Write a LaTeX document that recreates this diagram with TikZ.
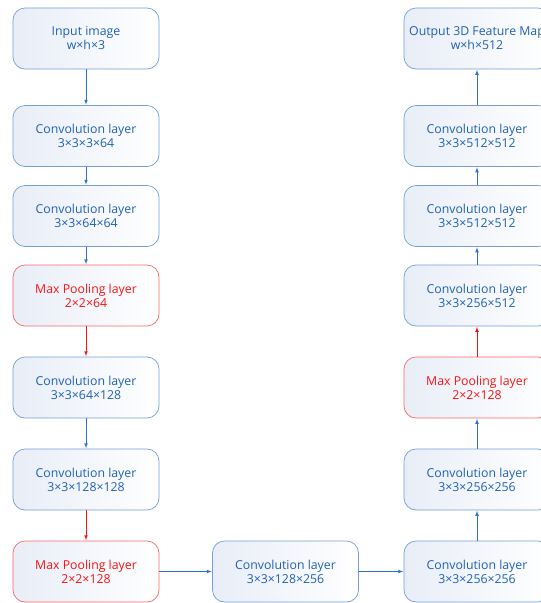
\documentclass[tikz,border=0pt]{standalone}
\usepackage{fontspec}
\setmainfont{Open Sans}
\usepackage{tikz}
\usetikzlibrary{shapes,arrows}

\definecolor{txtblue}{RGB}{31,98,184}
\definecolor{lineblue}{RGB}{118,158,216}
\definecolor{arrblue}{RGB}{45,115,205}
\definecolor{txtred}{RGB}{250,20,20}
\definecolor{linered}{RGB}{250,105,105}
\definecolor{fillgray}{RGB}{232,237,247}

\tikzset{
    layer/.style={rectangle,rounded corners=12pt,draw=lineblue,line width=0.7pt,
        left color=fillgray,right color=white,text=txtblue,
        minimum width=146pt,minimum height=61pt,align=center,
        font=\fontsize{12.3}{14}\selectfont},
    pool/.style={layer,draw=linered,text=txtred},
    link/.style={->,>=latex,draw=arrblue,line width=0.7pt,shorten >=0.5pt},
    redlink/.style={link,draw=txtred}
}

\begin{document}
\begin{tikzpicture}[x=1pt,y=-1pt]
        \useasboundingbox (0,0) rectangle (541,603);
        % 左列：从输入往下
        \node[layer] (input) at (86,38.5) {Input image\\w×h×3};
        \node[layer] (conva) at (86,136) {Convolution layer\\3×3×3×64};
        \node[layer] (convb) at (86,216) {Convolution layer\\3×3×64×64};
        \node[pool] (poola) at (86,295.5) {Max Pooling layer\\2×2×64};
        \node[layer] (convc) at (86,387.5) {Convolution layer\\3×3×64×128};
        \node[layer] (convd) at (86,479.5) {Convolution layer\\3×3×128×128};
        \node[pool] (poolb) at (86,571.5) {Max Pooling layer\\2×2×128};

        % 底部中间
        \node[layer] (conve) at (285.5,571.5) {Convolution layer\\3×3×128×256};

        % 右列：从下往上到输出
        \node[layer] (convf) at (477,571.5) {Convolution layer\\3×3×256×256};
        \node[layer] (convg) at (477,479.5) {Convolution layer\\3×3×256×256};
        \node[pool] (poolc) at (477,387.5) {Max Pooling layer\\2×2×128};
        \node[layer] (convh) at (477,295.5) {Convolution layer\\3×3×256×512};
        \node[layer] (convi) at (477,216) {Convolution layer\\3×3×512×512};
        \node[layer] (convj) at (477,136) {Convolution layer\\3×3×512×512};
        \node[layer] (output) at (477,38.5) {Output 3D Feature Map\\w×h×512};

        % 连接箭头
        \draw[link] (input) -- (conva);
        \draw[link] (conva) -- (convb);
        \draw[link] (convb) -- (poola);
        \draw[redlink] (poola) -- (convc);
        \draw[link] (convc) -- (convd);
        \draw[redlink] (convd) -- (poolb);
        \draw[link] (poolb) -- (conve);
        \draw[link] (conve) -- (convf);
        \draw[link] (convf) -- (convg);
        \draw[link] (convg) -- (poolc);
        \draw[redlink] (poolc) -- (convh);
        \draw[link] (convh) -- (convi);
        \draw[link] (convi) -- (convj);
        \draw[link] (convj) -- (output);
    \end{tikzpicture}
\end{document}
